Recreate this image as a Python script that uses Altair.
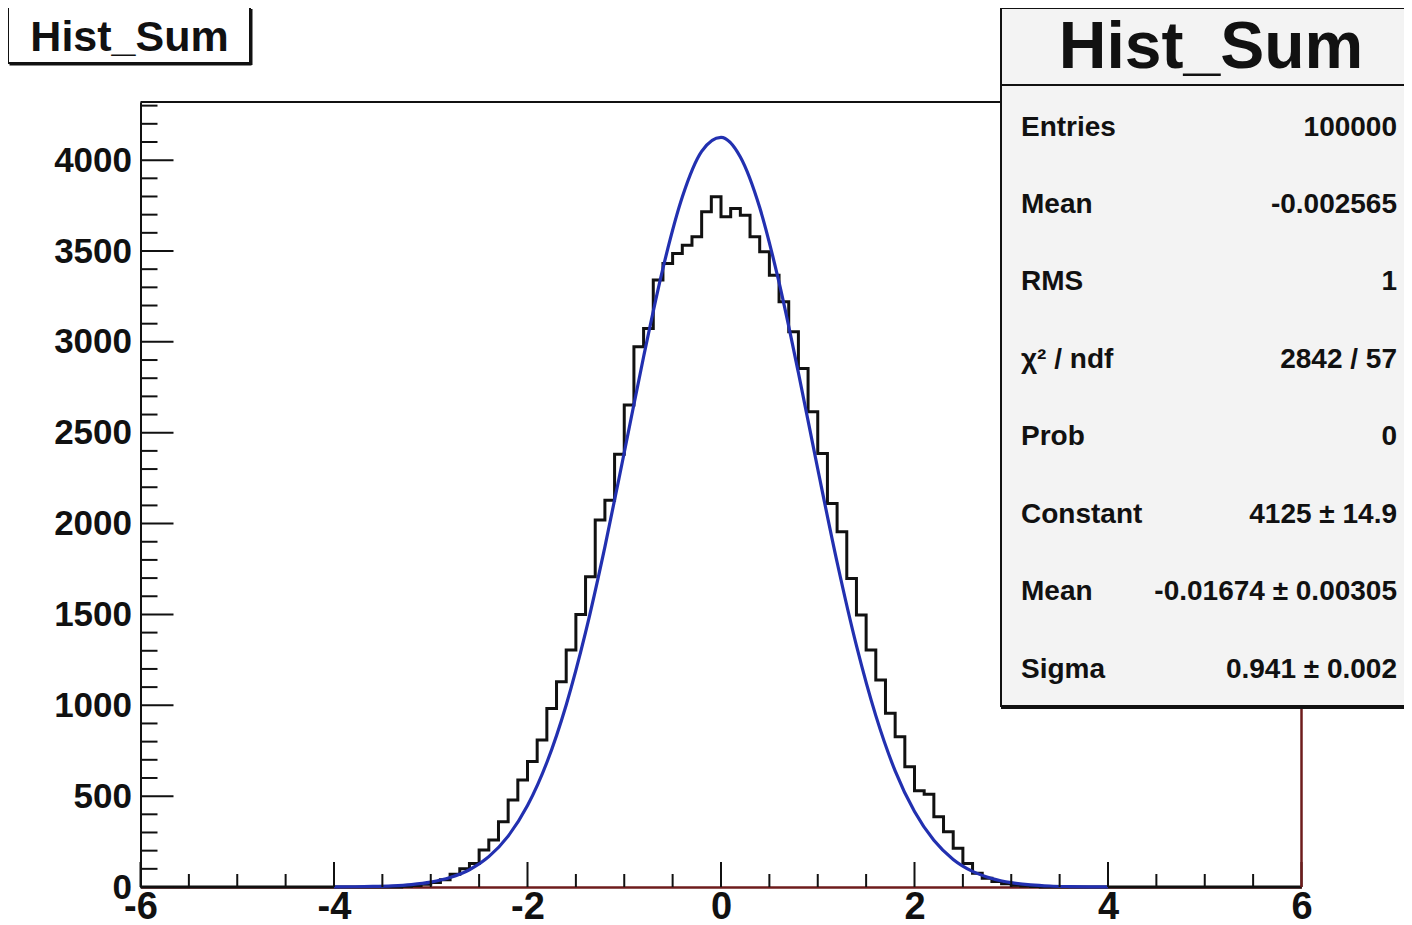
import altair as alt
import numpy as np
import pandas as pd

# ---------------- data ----------------
# histogram: 0.1-wide bins on [-6, 6]; non-zero counts start at lower edge -3.3
hist_first_edge = -3.3
hist_counts = [
    4, 8, 15, 25, 40, 70, 100, 130, 204, 259, 359, 479, 589, 690, 809, 983,
    1130, 1304, 1500, 1708, 2019, 2129, 2382, 2652, 2973, 3074, 3340, 3431,
    3486, 3532, 3578, 3716, 3798,
    3688, 3734, 3697, 3578, 3496, 3367, 3221, 3055, 2854, 2615, 2386, 2111,
    1955, 1698, 1497, 1304, 1139, 956, 827, 662, 530, 510, 387, 304, 213, 130,
    75, 48, 30, 18, 10, 6, 3,
]
# fitted gaussian curve (x = -4 .. 4, step 0.2)
fit_x = [round(-4 + 0.2 * i, 1) for i in range(41)]
fit_y = [0.5, 1.3, 2.9, 6.4, 13.5, 27, 52, 95, 167, 280, 448, 685, 1002, 1401,
         1872, 2391, 2918, 3405, 3797, 4048, 4125, 4017, 3739, 3327, 2830, 2300,
         1787, 1328, 943, 639, 415, 257, 152, 86, 47, 24, 12, 5.6, 2.6, 1.1, 0.45]

x_labels = [-6, -4, -2, 0, 2, 4, 6]
x_minor = [v / 2 for v in range(-12, 13) if v % 4 != 0]
y_labels = list(range(0, 4001, 500))
y_minor = [v for v in range(0, 4301, 100) if v % 500 != 0]

title_text = "Hist_Sum"
stat_names = ["Entries", "Mean", "RMS", "χ² / ndf", "Prob", "Constant", "Mean", "Sigma"]
stat_values = ["100000", "-0.002565", "1", "2842 / 57", "0",
               "4125 ± 14.9", "-0.01674 ± 0.00305", "0.941 ± 0.002"]

# ---------------- build tables ----------------
edges = np.round(np.arange(121) * 0.1 - 6, 1)
counts = np.zeros(121)
start = int(round((hist_first_edge + 6) / 0.1))
counts[start:start + len(hist_counts)] = hist_counts
hist_df = pd.DataFrame({"x": edges, "y": counts})
fit_df = pd.DataFrame({"x": fit_x, "y": fit_y})

W, H = 1161, 785
FONT = "Liberation Sans"
DARKRED = "#6e1c1c"
HYPHEN_LABEL = "datum.value < 0 ? '-' + abs(datum.value) : '' + datum.value"

xscale = alt.Scale(domain=[-6, 6], nice=False, zero=False)
yscale = alt.Scale(domain=[0, 4320], nice=False)
x_axis = alt.Axis(values=x_labels, labelExpr=HYPHEN_LABEL, title=None, grid=False, ticks=False,
                  labelFontSize=38, labelFontWeight="bold", labelFont=FONT,
                  labelColor="#111", labelPadding=1, labelFlush=False,
                  domainColor=DARKRED, domainWidth=2.5)
y_axis = alt.Axis(values=y_labels, labelExpr=HYPHEN_LABEL, title=None, grid=False, ticks=False,
                  labelFontSize=35, labelFontWeight="bold", labelFont=FONT,
                  labelColor="#111", labelPadding=9, labelFlush=False,
                  domainColor="#111", domainWidth=2)
X = alt.X("x:Q", scale=xscale, axis=x_axis)
Y = alt.Y("y:Q", scale=yscale, axis=y_axis)

hist = alt.Chart(hist_df).mark_line(interpolate="step-after", color="#111",
                                    strokeWidth=3).encode(x=X, y=Y)
fit = alt.Chart(fit_df).mark_line(interpolate="monotone", color="#2230b0",
                                  strokeWidth=3.2).encode(x=X, y=Y)

xmaj = alt.Chart(pd.DataFrame({"x": x_labels})).mark_rule(color="#111", strokeWidth=2).encode(
    x=X, y=alt.value(H), y2=alt.value(H - 25))
xmin = alt.Chart(pd.DataFrame({"x": x_minor})).mark_rule(color="#111", strokeWidth=2).encode(
    x=X, y=alt.value(H), y2=alt.value(H - 13))
ymaj = alt.Chart(pd.DataFrame({"y": y_labels})).mark_rule(color="#111", strokeWidth=2).encode(
    y=Y, x=alt.value(0), x2=alt.value(33))
ymin = alt.Chart(pd.DataFrame({"y": y_minor})).mark_rule(color="#111", strokeWidth=2).encode(
    y=Y, x=alt.value(0), x2=alt.value(17))

one = pd.DataFrame({"a": [0]})
frame_top = alt.Chart(one).mark_rule(color="#111", strokeWidth=2).encode(
    x=alt.value(0), x2=alt.value(861), y=alt.value(0))
frame_right = alt.Chart(one).mark_rule(color=DARKRED, strokeWidth=2.5).encode(
    x=alt.value(W), y=alt.value(600), y2=alt.value(H))

# stats box
sb_x0, sb_y0, sb_y1 = 860.5, -94, 604
stats_shadow = alt.Chart(one).mark_rule(color="#111", strokeWidth=4).encode(
    x=alt.value(sb_x0), x2=alt.value(1300), y=alt.value(sb_y1 + 1))
stats_box = alt.Chart(one).mark_rect(fill="#f3f3f3", stroke="#111", strokeWidth=2).encode(
    x=alt.value(sb_x0), x2=alt.value(1300), y=alt.value(sb_y0), y2=alt.value(sb_y1))
stats_div = alt.Chart(one).mark_rule(color="#111", strokeWidth=2).encode(
    x=alt.value(sb_x0), x2=alt.value(1300), y=alt.value(-17))
stats_title = alt.Chart(pd.DataFrame({"t": [title_text]})).mark_text(
    font=FONT, fontWeight="bold", fontSize=66, align="center", baseline="alphabetic",
    color="#111").encode(x=alt.value(1070.5), y=alt.value(-34), text="t:N")

stat_layers = []
for i, (nm, vl) in enumerate(zip(stat_names, stat_values)):
    yy = 33.5 + i * 77.43
    stat_layers.append(alt.Chart(pd.DataFrame({"t": [nm]})).mark_text(
        font=FONT, fontWeight="bold", fontSize=28, align="left", baseline="alphabetic",
        color="#111").encode(x=alt.value(880.5), y=alt.value(yy), text="t:N"))
    stat_layers.append(alt.Chart(pd.DataFrame({"t": [vl]})).mark_text(
        font=FONT, fontWeight="bold", fontSize=28, align="right", baseline="alphabetic",
        color="#111").encode(x=alt.value(1256.5), y=alt.value(yy), text="t:N"))

# title box top-left
tb_shadow_b = alt.Chart(one).mark_rule(color="#111", strokeWidth=3).encode(
    x=alt.value(-131), x2=alt.value(111), y=alt.value(-38))
tb_shadow_r = alt.Chart(one).mark_rule(color="#111", strokeWidth=3).encode(
    x=alt.value(110.5), y=alt.value(-93), y2=alt.value(-37))
tb_box = alt.Chart(one).mark_rect(fill="white", stroke="#111", strokeWidth=2).encode(
    x=alt.value(-132.5), x2=alt.value(109.5), y=alt.value(-95), y2=alt.value(-39))
tb_text = alt.Chart(pd.DataFrame({"t": [title_text]})).mark_text(
    font=FONT, fontWeight="bold", fontSize=43, align="center", baseline="alphabetic",
    color="#111").encode(x=alt.value(-11), y=alt.value(-51), text="t:N")

chart = alt.layer(
    hist, fit, xmaj, xmin, ymaj, ymin, frame_top, frame_right,
    stats_shadow, stats_box, stats_div, stats_title, *stat_layers,
    tb_shadow_b, tb_shadow_r, tb_box, tb_text,
).properties(
    width=W, height=H,
    autosize=alt.AutoSizeParams(type="none"),
    padding={"left": 132.5, "top": 94, "right": 102, "bottom": 36},
    background="white",
).configure_view(stroke=None)

chart.save("out.html", embed_options={"renderer": "svg", "actions": False})
